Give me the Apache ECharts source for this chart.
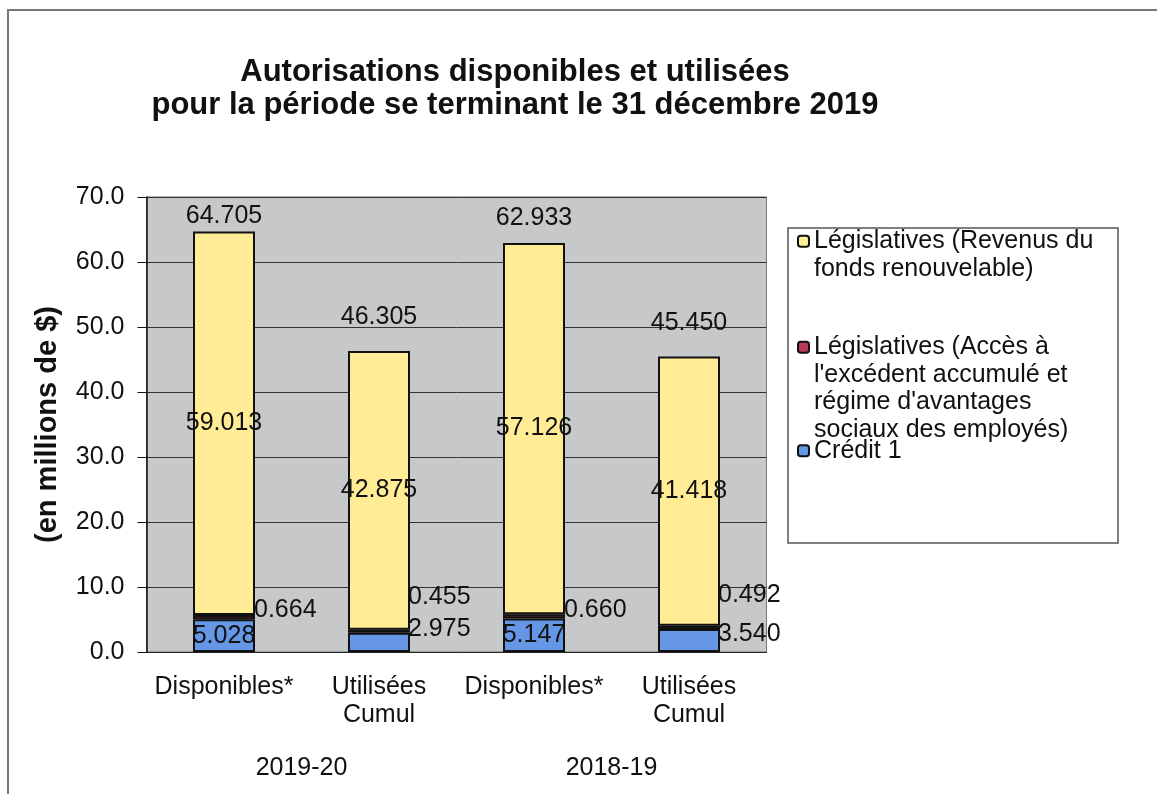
<!DOCTYPE html>
<html>
<head>
<meta charset="utf-8">
<script src="https://cdn.jsdelivr.net/npm/echarts@6/dist/echarts.min.js"></script>
<style>
  html, body { margin: 0; background: #fff; }
  #chart { width: 1157px; height: 794px; }
</style>
</head>
<body>
<div id="chart"></div>
<script>
// data (millions de $)
const categories = ['Disponibles*', 'Utilisées\nCumul', 'Disponibles*', 'Utilisées\nCumul'];
const periods = ['2019-20', '2018-19'];
const credit1 = [5.028, 2.975, 5.147, 3.540];
const accesExcedent = [0.664, 0.455, 0.660, 0.492];
const revenusFonds = [59.013, 42.875, 57.126, 41.418];
const totals = [64.705, 46.305, 62.933, 45.450];
const yMin = 0, yMax = 70, yStep = 10;

const nameRevenus = 'Législatives (Revenus du fonds renouvelable)';
const nameAcces = "Législatives (Accès à l'excédent accumulé et régime d'avantages sociaux des employés)";
const nameCredit = 'Crédit 1';
const wrapped = {};
wrapped[nameRevenus] = 'Législatives (Revenus du\nfonds renouvelable)';
wrapped[nameAcces] = "Législatives (Accès à\nl'excédent accumulé et\nrégime d'avantages\nsociaux des employés)";
wrapped[nameCredit] = 'Crédit 1';

// label placement (Excel moved some labels aside)
const creditPos = ['inside', 'right', 'inside', 'right'];
const creditShift = [[0, 0], [-2, -13], [0, 0], [-2, -6]];
const accesShift = [[-1, -7], [-2, -34], [-1, -6], [-2, -32]];
const totalGap = [3, 21, 12, 21];

const font = 'Liberation Sans, Arial, Helvetica, sans-serif';
const lblSize = 25;
const border = { borderColor: '#111', borderWidth: 2 };

var myChart = echarts.init(document.getElementById('chart'));

// legend icon sits at the first text line: pad with blank lines above
const LH = 27.5;
function legendAt(name, top) {
  const lines = wrapped[name].split('\n').length;
  return {
    data: [name],
    left: 797,
    top: top,
    orient: 'vertical',
    padding: 0,
    itemWidth: 11,
    itemHeight: 11,
    itemGap: 0,
    selectedMode: false,
    itemStyle: { borderColor: '#111', borderWidth: 2 },
    formatter: n => '\n'.repeat(lines - 1) + wrapped[n],
    textStyle: { fontFamily: font, fontSize: 25, color: '#111', lineHeight: LH }
  };
}

var option = {
  animation: false,
  backgroundColor: '#fff',
  textStyle: { fontFamily: font },
  title: {
    text: 'Autorisations disponibles et utilisées\npour la période se terminant le 31 décembre 2019',
    left: 515,
    top: 56,
    padding: 0,
    textAlign: 'center',
    textStyle: { fontFamily: font, fontSize: 31, fontWeight: 'bold', color: '#111', lineHeight: 33 }
  },
  graphic: [
    { type: 'rect', z: -1, shape: { x: 8, y: 10, width: 1200, height: 900 },
      style: { fill: 'none', stroke: '#777', lineWidth: 2 } },
    { type: 'rect', z: 0, shape: { x: 788, y: 228, width: 330, height: 315 },
      style: { fill: '#fff', stroke: '#555', lineWidth: 1.5 } }
  ],
  legend: [
    legendAt(nameRevenus, 200),
    legendAt(nameAcces, 251),
    legendAt(nameCredit, 437)
  ],
  grid: {
    left: 146.5, right: 390.5, top: 197, bottom: 142,
    show: true, backgroundColor: '#c6c8ca', borderColor: '#777', borderWidth: 1
  },
  xAxis: [{
    type: 'category',
    data: categories,
    axisLine: { lineStyle: { color: '#222', width: 1 } },
    axisTick: { show: false },
    axisLabel: { interval: 0, fontSize: lblSize, lineHeight: 28, margin: 21, color: '#111' }
  }, {
    type: 'category',
    data: periods,
    position: 'bottom',
    axisLine: { show: false },
    axisTick: { show: false },
    axisLabel: { interval: 0, fontSize: lblSize, margin: 104, color: '#111' }
  }],
  yAxis: {
    type: 'value',
    min: yMin, max: yMax, interval: yStep,
    name: '(en millions de $)',
    nameLocation: 'middle',
    nameGap: 84,
    nameRotate: 90,
    nameTextStyle: { fontSize: 29, fontWeight: 'bold', color: '#111' },
    axisLine: { show: true, lineStyle: { color: '#111', width: 1.5 } },
    axisTick: { show: true, length: 9, lineStyle: { color: '#111' } },
    splitLine: { lineStyle: { color: '#333', width: 1 } },
    axisLabel: { fontSize: lblSize, margin: 22, color: '#111', formatter: v => v.toFixed(1) }
  },
  series: [{
    name: nameCredit,
    type: 'bar',
    stack: 'total',
    barWidth: '40%',
    itemStyle: Object.assign({ color: '#6597e6' }, border),
    data: credit1.map((v, i) => ({
      value: v,
      label: { show: true, position: creditPos[i], distance: 0, offset: creditShift[i] }
    })),
    label: { fontSize: lblSize, color: '#111', formatter: p => p.value.toFixed(3) }
  }, {
    name: nameAcces,
    type: 'bar',
    stack: 'total',
    itemStyle: Object.assign({ color: '#b8375a' }, border),
    data: accesExcedent.map((v, i) => ({
      value: v,
      label: { show: true, position: 'right', distance: 0, offset: accesShift[i] }
    })),
    label: { fontSize: lblSize, color: '#111', formatter: p => p.value.toFixed(3) }
  }, {
    name: nameRevenus,
    type: 'bar',
    stack: 'total',
    itemStyle: Object.assign({ color: '#ffec95' }, border),
    data: revenusFonds,
    label: { show: true, position: 'inside', fontSize: lblSize, color: '#111', formatter: p => p.value.toFixed(3) }
  }, {
    name: 'Total',
    type: 'scatter',
    silent: true,
    symbolSize: 0.1,
    itemStyle: { color: 'transparent', opacity: 1 },
    data: totals.map((v, i) => ({
      value: v,
      label: { show: true, position: 'top', distance: totalGap[i] }
    })),
    label: { fontSize: lblSize, color: '#111', formatter: p => p.value.toFixed(3) }
  }]
};

option && myChart.setOption(option);
</script>
</body>
</html>
